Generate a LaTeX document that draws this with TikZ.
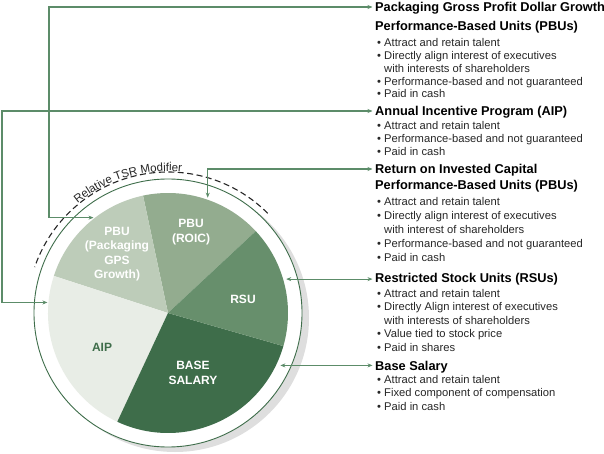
\documentclass[tikz,border=0pt]{standalone}
\usepackage{fontspec}
\setmainfont{Liberation Sans}
\usetikzlibrary{arrows.meta,decorations.text}

\definecolor{roicfill}{HTML}{93AC8F}
\definecolor{pkgfill}{HTML}{BDCCB9}
\definecolor{aipfill}{HTML}{E8EDE6}
\definecolor{basefill}{HTML}{3E6D4A}
\definecolor{rsufill}{HTML}{678F6C}
\definecolor{linkgreen}{HTML}{5C8C69}
\definecolor{ringgreen}{HTML}{3E6D4A}
\definecolor{shadowgray}{HTML}{DEDEDE}

\newcommand{\bitem}{\textbullet\ }
\newcommand{\bcont}{\phantom{\textbullet\ }}

\begin{document}
\begin{tikzpicture}[x=1pt, y=1pt,
  slicelabel/.style={align=center, font=\fontsize{12}{14.5}\selectfont\bfseries, text=white, inner sep=0pt},
  heading/.style={anchor=base west, align=left, font=\fontsize{12.8}{15.5}\selectfont\bfseries, inner sep=0pt},
  bullets/.style={anchor=base west, align=left, font=\fontsize{11.2}{13.5}\selectfont, inner sep=0pt, text=black!85},
  link/.style={{Stealth[length=5pt,width=4pt]}-{Stealth[length=5pt,width=4pt]}, draw=linkgreen, line width=1.1pt, shorten >=2.5pt}
]
\useasboundingbox (0,0) rectangle (604,-454);

% ==================== PIE ====================
\coordinate (c) at (168,-313);
\fill[shadowgray] ([shift={(7,-5)}]c) circle (134);
\filldraw[fill=white, draw=ringgreen, line width=0.9pt] (c) circle (134);

\fill[roicfill] (c) -- ++(43:120) arc (43:102:120) -- cycle;
\fill[pkgfill] (c) -- ++(102:120) arc (102:162:120) -- cycle;
\fill[aipfill] (c) -- ++(162:120) arc (162:245:120) -- cycle;
\fill[basefill] (c) -- ++(245:120) arc (245:344:120) -- cycle;
\fill[rsufill] (c) -- ++(-16:120) arc (-16:43:120) -- cycle;

\draw[black!85, dash pattern=on 6pt off 3.5pt, line width=1.1pt] ([shift={(45:141)}]c) arc (45:161:141);
\path[decorate, decoration={text along path, text align=center, text color=black!85,
  text={|\fontsize{11.5}{13}\selectfont|Relative TSR Modifier}}] ([shift={(140:142)}]c) arc (140:74:142);

\node[slicelabel] (lpkg) at (117,-254) {PBU\\(Packaging\\GPS\\Growth)};
\node[slicelabel] (lroic) at (191,-232) {PBU\\(ROIC)};
\node[slicelabel] (lrsu) at (243,-299) {RSU};
\node[slicelabel, text=basefill] (laip) at (102,-347) {AIP};
\node[slicelabel] (lbase) at (193,-373) {BASE\\SALARY};

\coordinate (rpkg) at ([shift={(128:121)}]c);
\coordinate (raip) at ([shift={(175:121)}]c);
\coordinate (rroic) at ([shift={(71:122)}]c);
\coordinate (rrsu) at ([shift={(16:123)}]c);
\coordinate (rbase) at ([shift={(-25:124)}]c);

% ==================== TEXT BLOCKS ====================
% (base = baseline of the last line)
\node[heading, font=\fontsize{12.8}{19}\selectfont\bfseries] (h1) at (375,-31) {Packaging Gross Profit Dollar Growth\\Performance-Based Units (PBUs)};
\node[bullets, font=\fontsize{11.2}{12.75}\selectfont] (b1) at (377,-98) {\bitem Attract and retain talent\\ \bitem Directly align interest of executives\\ \bcont with interests of shareholders\\ \bitem Performance-based and not guaranteed\\ \bitem Paid in cash};

\node[heading] (h2) at (375,-116) {Annual Incentive Program (AIP)};
\node[bullets, font=\fontsize{11.2}{13}\selectfont] (b2) at (377,-156) {\bitem Attract and retain talent\\ \bitem Performance-based and not guaranteed\\ \bitem Paid in cash};

\node[heading] (h3) at (375,-189.5) {Return on Invested Capital\\Performance-Based Units (PBUs)};
\node[bullets, font=\fontsize{11.2}{13.75}\selectfont] (b3) at (377,-261) {\bitem Attract and retain talent\\ \bitem Directly align interest of executives\\ \bcont with interest of shareholders\\ \bitem Performance-based and not guaranteed\\ \bitem Paid in cash};

\node[heading] (h4) at (375,-282) {Restricted Stock Units (RSUs)};
\node[bullets] (b4) at (377,-351) {\bitem Attract and retain talent\\ \bitem Directly Align interest of executives\\ \bcont with interests of shareholders\\ \bitem Value tied to stock price\\ \bitem Paid in shares};

\node[heading] (h5) at (375,-370) {Base Salary};
\node[bullets] (b5) at (377,-410) {\bitem Attract and retain talent\\ \bitem Fixed component of compensation\\ \bitem Paid in cash};

% ==================== CONNECTORS ====================
\draw[link] (rpkg) -- ++(-44.5,0) |- ([yshift=24pt]h1.base west);
\draw[link] (raip) -- ++(-45.5,0) |- ([yshift=5pt]h2.base west);
\draw[link] (rroic) |- ([yshift=20.5pt]h3.base west);
\draw[link] (rrsu) -- (rrsu -| h4.west);
\draw[link] (rbase) -- (rbase -| h5.west);

\end{tikzpicture}
\end{document}
